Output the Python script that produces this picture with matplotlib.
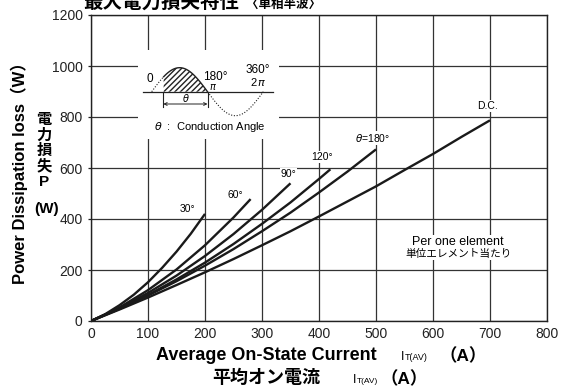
import numpy as np
import matplotlib
matplotlib.use('Agg')
import matplotlib.pyplot as plt

plt.rcParams['font.family'] = ['Liberation Sans', 'Noto Sans CJK JP', 'DejaVu Sans']

# values (A, W)
x_30 = [0, 25, 50, 75, 100, 125, 150, 175, 200]
p_30 = [0, 27, 62, 103, 152, 209, 272, 342, 420]
x_60 = [0, 25, 50, 100, 150, 200, 250, 280]
p_60 = [0, 25, 53, 121, 202, 297, 406, 478]
x_90 = [0, 50, 100, 150, 200, 250, 300, 350]
p_90 = [0, 51, 110, 178, 255, 341, 436, 540]
x_120 = [0, 50, 100, 150, 200, 250, 300, 350, 400, 420]
p_120 = [0, 48, 102, 163, 229, 302, 381, 465, 557, 595]
x_180 = [0, 50, 100, 150, 200, 250, 300, 350, 400, 450, 500]
p_180 = [0, 48, 100, 156, 217, 282, 352, 425, 504, 586, 673]
x_dc = [0, 50, 100, 150, 200, 250, 300, 350, 400, 450, 500, 550, 600, 650, 700]
p_dc = [0, 45, 92, 141, 191, 243, 297, 352, 410, 469, 528, 592, 655, 722, 787]

curve_names = ['30°', '60°', '90°', '120°', r'$\theta$=180°', 'D.C.']
x_ticks = [0, 100, 200, 300, 400, 500, 600, 700, 800]
y_ticks = [0, 200, 400, 600, 800, 1000, 1200]

W, H = 566, 390
fig = plt.figure(figsize=(W / 100, H / 100), dpi=100)


def fx(x):
	return x / W


def fy(y):
	return 1 - y / H


ax = fig.add_axes([fx(91), 1 - 321 / H, 456 / W, 306 / H])
curves = [(x_30, p_30), (x_60, p_60), (x_90, p_90), (x_120, p_120), (x_180, p_180), (x_dc, p_dc)]
for xs, ps in curves:
	ax.plot(xs, ps, color='#1a1a1a', lw=1.7, solid_capstyle='butt', zorder=3)

ax.set_xlim(0, 800)
ax.set_ylim(0, 1200)
ax.set_xticks(x_ticks)
ax.set_yticks(y_ticks)
ax.grid(True, color='#333333', lw=0.9)
ax.set_axisbelow(True)
for s in ax.spines.values():
	s.set_color('#222222')
	s.set_linewidth(1.0)
ax.tick_params(axis='y', length=2.5, width=0.9, pad=3.5, labelsize=10, colors='#222222')
ax.tick_params(axis='x', length=0, pad=4, labelsize=10, colors='#222222')

# curve labels, placed just above the end of each curve
label_pos = [(170, 439), (253, 494), (346, 576), (405, 643), (494, 717), (695, 843)]
for name, (lx, ly) in zip(curve_names, label_pos):
	ax.text(lx, ly, name, fontsize=7.5, ha='center', va='center', zorder=4,
			bbox=dict(facecolor='white', edgecolor='none', pad=0.6))

ax.text(644, 310, 'Per one element', fontsize=9, ha='center', va='center', zorder=4,
		bbox=dict(facecolor='white', edgecolor='none', pad=0.5))
ax.text(644, 262, '単位エレメント当たり', fontsize=7.7, ha='center', va='center', zorder=4,
		bbox=dict(facecolor='white', edgecolor='none', pad=0.5))

# inset diagram (conduction angle sketch), drawn in pixel units
ins = fig.add_axes([fx(138), fy(139), 141 / W, 89 / H])
ins.set_xlim(138, 279)
ins.set_ylim(139, 50)
ins.axis('off')
ins.add_patch(plt.Rectangle((138, 50), 141, 89, facecolor='white', edgecolor='none'))
x0, x2pi, base, amp = 151.7, 263.3, 91.7, 24
xf = 163.3
xpi = (x0 + x2pi) / 2
t = np.linspace(x0, x2pi, 300)
s = base - amp * np.sin((t - x0) / (x2pi - x0) * 2 * np.pi)
ins.plot([142.7, 273.3], [base, base], color='#222222', lw=0.9)
on = (t >= xf) & (t <= xpi)
ins.plot(t[t <= xf], s[t <= xf], color='#222222', lw=0.8, ls=(0, (1, 1.5)))
ins.plot(t[t >= xpi], s[t >= xpi], color='#222222', lw=0.8, ls=(0, (1, 1.5)))
ins.plot(t[on], s[on], color='#222222', lw=1.0)
ins.fill_between(t[on], s[on], base, facecolor='white', edgecolor='#222222', hatch='//////', linewidth=0)
ins.plot([xf, xf], [base, 106.5], color='#222222', lw=0.8)
ins.plot([xpi, xpi], [base, 106.5], color='#222222', lw=0.8)
ins.annotate('', xy=(xf, 104), xytext=(xpi, 104),
			arrowprops=dict(arrowstyle='<->', color='#222222', lw=0.7, shrinkA=0, shrinkB=0,
							mutation_scale=5))
ins.text((xf + xpi) / 2, 98.5, r'$\theta$', fontsize=7, ha='center', va='center')
ins.text(150, 79.5, '0', fontsize=8.5, ha='center', va='center')
ins.text(215, 76.5, '180°', fontsize=8.5, ha='center', va='center')
ins.text(213, 86.5, r'$\pi$', fontsize=7, ha='center', va='center')
ins.text(258, 70, '360°', fontsize=8.5, ha='center', va='center')
ins.text(258, 81.5, r'2$\,\pi$', fontsize=8, ha='center', va='center')
ins.text(210, 126.5, r'$\theta$' + '  :  Conduction Angle', fontsize=8, ha='center', va='center')

# title (partly cut at the top like the original)
fig.text(fx(83), fy(7.5), '最大電力損失特性', fontsize=14, fontweight='bold', ha='left', va='baseline')
fig.text(fx(246), fy(7.5), '〈単相半波〉', fontsize=9, fontweight='bold', ha='left', va='baseline')

# y axis labels
fig.text(fx(19), fy(168.5), 'Power Dissipation loss（W）', fontsize=12, fontweight='bold',
		 rotation=90, ha='center', va='center')
jp_chars = ['電', '力', '損', '失', 'P']
for i, ch in enumerate(jp_chars):
	fig.text(fx(44), fy(120 + 15.5 * i), ch, fontsize=11, fontweight='bold', ha='center', va='center')
fig.text(fx(47), fy(209), '(W)', fontsize=11, fontweight='bold', ha='center', va='center')

# x axis labels
fig.text(fx(266), fy(356), 'Average On-State Current', fontsize=13, fontweight='bold', ha='center', va='center')
fig.text(fx(401), fy(360.5), 'I', fontsize=9, ha='left', va='baseline')
fig.text(fx(405), fy(360.5), 'T(AV)', fontsize=6.5, ha='left', va='baseline')
fig.text(fx(463), fy(356), '（A）', fontsize=12.5, fontweight='bold', ha='center', va='center')
fig.text(fx(266), fy(378.5), '平均オン電流', fontsize=13, fontweight='bold', ha='center', va='center')
fig.text(fx(353), fy(383), 'I', fontsize=9, ha='left', va='baseline')
fig.text(fx(357), fy(383), 'T(AV)', fontsize=6, ha='left', va='baseline')
fig.text(fx(404), fy(378.5), '（A）', fontsize=12.5, fontweight='bold', ha='center', va='center')

fig.savefig('out.png', dpi=100)
